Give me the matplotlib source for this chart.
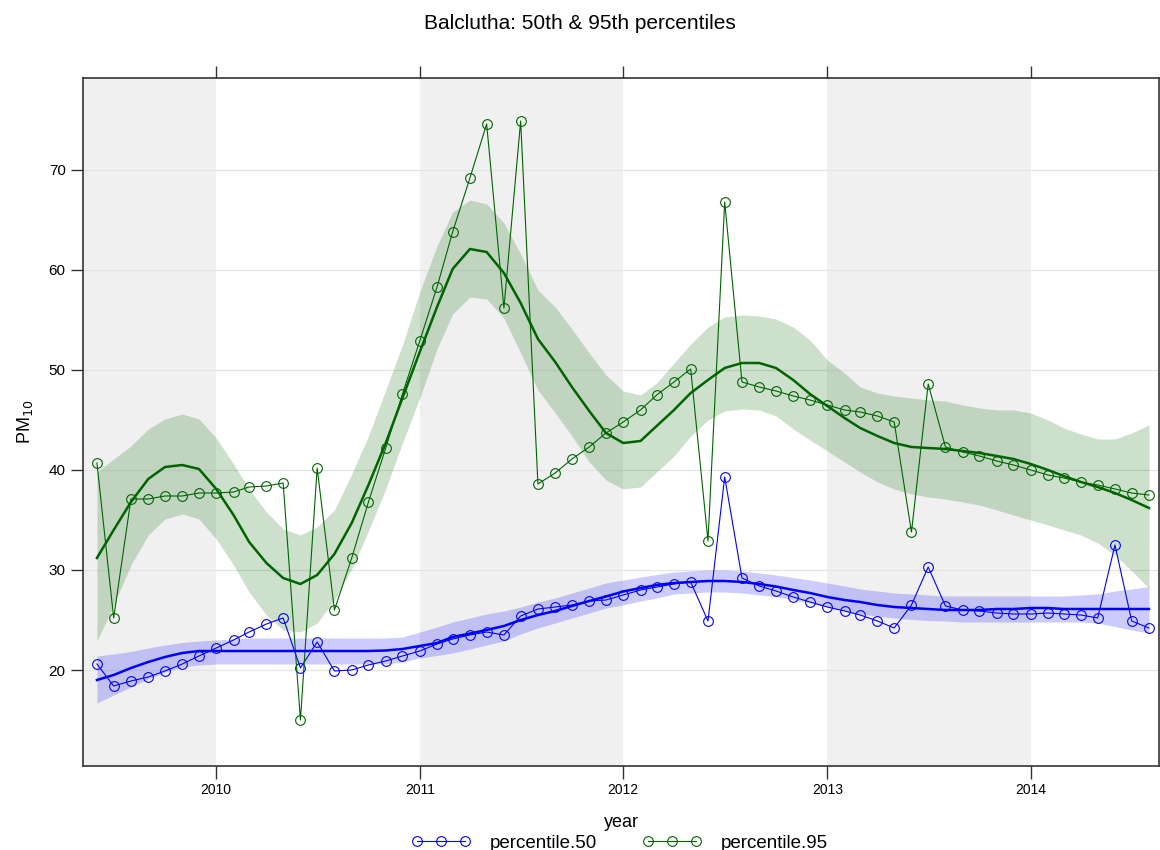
import matplotlib
matplotlib.use("Agg")
import matplotlib.pyplot as plt
import pandas as pd

plt.rcParams['font.family'] = ['Liberation Sans', 'DejaVu Sans']

# monthly values, June 2009 -> August 2014
months = pd.date_range("2009-06-01", "2014-08-01", freq="MS")

p50 = [20.6, 18.4, 18.9, 19.3, 19.9, 20.6, 21.4,
       22.2, 23.0, 23.8, 24.6, 25.2, 20.2, 22.8, 19.9, 20.0, 20.5, 20.9, 21.4,
       21.9, 22.6, 23.1, 23.5, 23.8, 23.5, 25.4, 26.1, 26.3, 26.5, 26.9, 27.0,
       27.5, 28.0, 28.3, 28.6, 28.8, 24.9, 39.3, 29.2, 28.4, 27.9, 27.3, 26.8,
       26.3, 25.9, 25.5, 24.9, 24.2, 26.5, 30.3, 26.4, 26.0, 25.9, 25.7, 25.6,
       25.6, 25.7, 25.6, 25.5, 25.2, 32.5, 24.9, 24.2]

p95 = [40.7, 25.2, 37.1, 37.1, 37.4, 37.4, 37.7,
       37.7, 37.8, 38.3, 38.4, 38.7, 15.0, 40.2, 26.0, 31.2, 36.8, 42.2, 47.6,
       52.9, 58.3, 63.8, 69.2, 74.6, 56.2, 74.9, 38.6, 39.7, 41.1, 42.3, 43.7,
       44.8, 46.0, 47.5, 48.8, 50.1, 32.9, 66.8, 48.8, 48.3, 47.9, 47.4, 47.0,
       46.5, 46.0, 45.8, 45.4, 44.8, 33.8, 48.6, 42.3, 41.8, 41.4, 40.9, 40.5,
       40.0, 39.5, 39.2, 38.8, 38.5, 38.1, 37.7, 37.5]

# smooth fits and their bands, read at the same months
p95_fit = [31.2, 34.0, 36.8, 39.1, 40.3, 40.5, 40.1,
           38.1, 35.5, 32.8, 30.7, 29.2, 28.6, 29.5, 31.6, 34.7, 38.5, 42.7, 47.2,
           51.8, 56.3, 60.1, 62.1, 61.8, 59.7, 56.7, 53.1, 50.8, 48.3, 45.9, 43.7,
           42.7, 42.9, 44.4, 46.0, 47.7, 49.0, 50.2, 50.7, 50.7, 50.2, 49.0, 47.6,
           46.4, 45.2, 44.2, 43.4, 42.7, 42.3, 42.2, 42.1, 41.9, 41.7, 41.4, 41.1,
           40.6, 40.0, 39.4, 38.8, 38.3, 37.7, 37.0, 36.2]
p95_hi = [39.8, 41.1, 42.4, 44.1, 45.1, 45.6, 45.1,
          43.2, 40.6, 38.1, 35.8, 34.1, 33.5, 34.3, 36.0, 39.6, 43.4, 48.0, 52.5,
          57.8, 62.4, 65.8, 67.0, 66.6, 64.7, 61.6, 58.0, 56.3, 54.1, 51.7, 49.5,
          47.9, 47.5, 48.7, 50.7, 52.6, 54.3, 55.3, 55.5, 55.4, 55.1, 54.3, 53.0,
          51.0, 49.7, 48.3, 47.7, 47.4, 47.2, 47.0, 46.9, 46.5, 46.2, 46.0, 46.0,
          45.7, 45.0, 44.2, 43.6, 43.1, 43.1, 43.7, 44.5]
p95_lo = [22.9, 26.5, 30.5, 33.5, 35.1, 35.6, 35.1,
          33.1, 30.5, 27.8, 25.5, 24.0, 23.8, 24.7, 27.0, 30.1, 33.9, 38.1, 42.7,
          47.2, 52.1, 55.6, 57.3, 57.1, 55.2, 51.7, 48.0, 45.7, 43.4, 40.8, 39.0,
          38.1, 38.3, 39.8, 41.4, 43.4, 45.0, 45.9, 46.1, 46.0, 45.4, 44.1, 43.0,
          41.9, 40.8, 39.8, 38.8, 38.1, 37.6, 37.3, 37.1, 36.8, 36.5, 36.0, 35.5,
          35.0, 34.5, 34.0, 33.5, 32.7, 31.5, 29.9, 28.2]

p50_fit = [19.0, 19.5, 20.2, 20.8, 21.3, 21.7, 21.9,
           21.9, 21.9, 21.9, 21.9, 21.9, 21.9, 21.9, 21.9, 21.9, 21.9, 21.95, 22.1,
           22.4, 22.7, 23.3, 23.65, 24.0, 24.4, 25.0, 25.5, 25.9, 26.4, 26.9, 27.35,
           27.85, 28.2, 28.5, 28.7, 28.8, 28.9, 28.9, 28.8, 28.6, 28.35, 28.0, 27.7,
           27.3, 27.0, 26.8, 26.5, 26.3, 26.2, 26.1, 26.0, 26.0, 26.0, 26.1, 26.1,
           26.2, 26.2, 26.1, 26.1, 26.1, 26.1, 26.1, 26.1]
p50_hi = [21.4, 21.6, 21.85, 22.2, 22.5, 22.75, 22.9,
          23.0, 23.1, 23.2, 23.2, 23.2, 23.2, 23.2, 23.2, 23.2, 23.2, 23.2, 23.3,
          23.8, 24.3, 24.8, 25.2, 25.6, 25.9, 26.3, 26.8, 27.2, 27.7, 28.2, 28.7,
          29.0, 29.3, 29.55, 29.8, 29.9, 30.0, 30.0, 29.9, 29.7, 29.5, 29.25, 29.0,
          28.7, 28.4, 28.1, 27.9, 27.7, 27.6, 27.5, 27.4, 27.4, 27.4, 27.4, 27.4,
          27.4, 27.4, 27.4, 27.5, 27.6, 27.9, 28.1, 28.35]
p50_lo = [16.7, 17.5, 18.3, 19.1, 19.8, 20.3, 20.5,
          20.6, 20.6, 20.6, 20.6, 20.6, 20.6, 20.6, 20.6, 20.6, 20.6, 20.6, 20.8,
          21.2, 21.45, 21.7, 22.1, 22.5, 22.9, 23.6, 24.2, 24.7, 25.2, 25.7, 26.2,
          26.5, 26.9, 27.2, 27.6, 27.7, 27.8, 27.8, 27.7, 27.5, 27.35, 27.0, 26.7,
          26.3, 25.9, 25.6, 25.4, 25.2, 25.05, 24.95, 24.9, 24.8, 24.8, 24.8, 24.8,
          24.8, 24.8, 24.8, 24.8, 24.7, 24.35, 24.0, 23.7]

years = [2010, 2011, 2012, 2013, 2014]
shaded_years = [(2009, 2010), (2011, 2012), (2013, 2014)]

fig = plt.figure(figsize=(11.6, 8.5), dpi=100)
ax = fig.add_axes([83 / 1160, 1 - 766 / 850, 1076 / 1160, 688 / 850])

x_lo = pd.Timestamp("2009-05-07")
x_hi = pd.Timestamp("2014-08-19")

# alternating year shading
for a, b in shaded_years:
    ax.axvspan(max(pd.Timestamp(f"{a}-01-01"), x_lo), pd.Timestamp(f"{b}-01-01"),
               color='#f0f0f0', lw=0, zorder=0)

for v in [20, 30, 40, 50, 60, 70]:
    ax.axhline(v, color='#e4e4e4', lw=0.9, zorder=0.5)

# bands
ax.fill_between(months, p95_lo, p95_hi, color='darkgreen', alpha=0.2, lw=0, zorder=1)
ax.fill_between(months, p50_lo, p50_hi, color='blue', alpha=0.2, lw=0, zorder=1)

# observed values
ax.plot(months, p50, color='blue', lw=0.8, marker='o', mfc='none', mec='blue',
        ms=7, mew=0.8, zorder=3, label='percentile.50')
ax.plot(months, p95, color='darkgreen', lw=0.8, marker='o', mfc='none', mec='darkgreen',
        ms=7, mew=0.8, zorder=3, label='percentile.95')

# smooth fits
ax.plot(months, p50_fit, color='blue', lw=1.8, zorder=4)
ax.plot(months, p95_fit, color='darkgreen', lw=1.8, zorder=4)

ax.set_xlim(x_lo, x_hi)
ax.set_ylim(10.4, 79.2)

ax.set_xticks([pd.Timestamp(f"{y}-01-01") for y in years])
ax.set_xticklabels([str(y) for y in years])
ax.set_yticks([20, 30, 40, 50, 60, 70])
ax.tick_params(axis='x', top=True, bottom=True, labeltop=False, direction='out',
               length=9, width=1, colors='#333333', labelcolor='black', labelsize=10)
ax.tick_params(axis='y', left=True, right=False, direction='out', length=9, width=1,
               colors='#333333', labelcolor='black', labelsize=11)
for s in ax.spines.values():
    s.set_color('#333333')
    s.set_linewidth(1.2)

ax.set_xlabel("year", fontsize=13, labelpad=12)
ax.set_ylabel("PM$_{10}$", fontsize=13, labelpad=10)
fig.suptitle("Balclutha: 50th & 95th percentiles", y=0.984, fontsize=15)

fig.legend(loc='lower center', bbox_to_anchor=(0.534, -0.022), ncol=2, frameon=False,
           numpoints=3, handlelength=3.2, fontsize=13.5, columnspacing=2.4, handletextpad=1.0)

fig.savefig("out.png", dpi=100)
